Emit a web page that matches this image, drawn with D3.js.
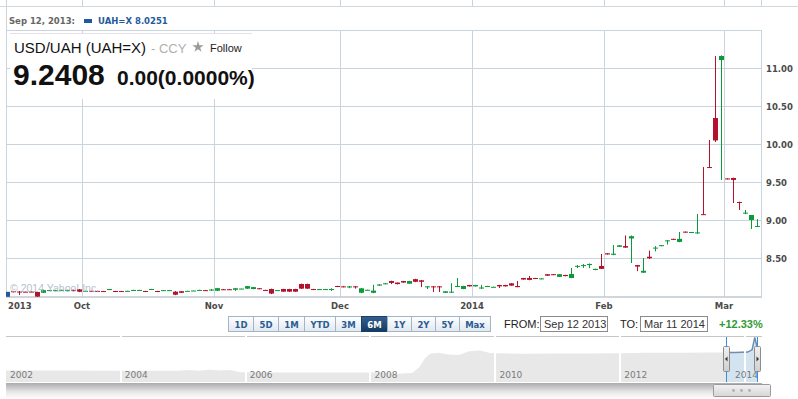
<!DOCTYPE html>
<html>
<head>
<meta charset="utf-8">
<script src="https://cdn.jsdelivr.net/npm/d3@7"></script>
<style>
body { margin: 0; background: #fff; }
svg { display: block; font-family: "Liberation Sans", Arial, sans-serif; }
</style>
</head>
<body>
<div id="chart"></div>
<script>
// trading days on the chart (weekdays, two days without quotes)
let firstDay = new Date(2013, 8, 12), lastDay = new Date(2014, 2, 10);
let missingDays = ["2013-10-14", "2014-01-01"];
let fmtDay = d3.timeFormat("%Y-%m-%d");
let dates = d3.timeDay.range(firstDay, d3.timeDay.offset(lastDay, 1))
    .filter(d => d.getDay() > 0 && d.getDay() < 6 && !missingDays.includes(fmtDay(d)));

// daily candles USD/UAH
let open = [8.030,8.066,8.062,8.060,8.061,8.056,8.045,8.080,8.081,8.078,8.079,8.084,8.091,8.070,8.071,8.070,8.068,8.083,8.069,8.068,
    8.070,8.081,8.080,8.069,8.084,8.069,8.073,8.073,8.060,8.066,8.070,8.074,8.080,8.080,8.085,8.072,8.092,8.092,8.085,8.100,
    8.100,8.095,8.105,8.083,8.095,8.080,8.095,8.095,8.095,8.161,8.161,8.095,8.085,8.085,8.085,8.135,8.130,8.115,8.130,8.046,
    8.080,8.045,8.140,8.160,8.200,8.180,8.200,8.165,8.225,8.210,8.125,8.130,8.130,8.045,8.050,8.130,8.095,8.148,8.130,8.110,
    8.130,8.120,8.148,8.148,8.170,8.135,8.240,8.240,8.240,8.225,8.290,8.290,8.255,8.280,8.240,8.395,8.405,8.410,8.345,8.398,
    8.565,8.545,8.650,8.660,8.760,8.410,8.310,8.520,8.630,8.660,8.730,8.755,8.715,8.850,8.835,8.830,9.080,9.700,10.345,11.108,
    9.550,9.556,9.240,9.090,9.003,8.920];
let high = [8.036,8.070,8.069,8.064,8.064,8.058,8.084,8.083,8.084,8.086,8.085,8.086,8.095,8.072,8.073,8.072,8.070,8.096,8.071,8.070,
    8.072,8.085,8.084,8.071,8.097,8.071,8.082,8.082,8.068,8.069,8.072,8.076,8.085,8.083,8.096,8.110,8.095,8.095,8.110,8.102,
    8.136,8.123,8.108,8.085,8.100,8.082,8.098,8.098,8.098,8.166,8.166,8.097,8.096,8.096,8.105,8.137,8.133,8.135,8.135,8.110,
    8.087,8.150,8.157,8.172,8.205,8.182,8.202,8.202,8.230,8.215,8.135,8.135,8.135,8.067,8.170,8.240,8.137,8.150,8.150,8.150,
    8.137,8.126,8.150,8.150,8.172,8.200,8.242,8.266,8.242,8.237,8.292,8.292,8.292,8.282,8.372,8.410,8.424,8.430,8.362,8.556,
    8.567,8.674,8.672,8.800,8.800,8.412,8.503,8.600,8.660,8.674,8.740,8.757,8.845,8.852,8.847,9.082,9.700,10.056,11.160,11.170,
    9.553,9.560,9.245,9.135,9.069,9.016];
let low = [8.020,8.050,8.016,8.056,8.057,7.990,8.043,8.078,8.079,8.075,8.076,8.076,8.054,8.068,8.069,8.055,8.061,8.081,8.054,8.061,
    8.068,8.079,8.078,8.055,8.082,8.054,8.071,8.071,8.014,8.042,8.068,8.072,8.078,8.070,8.070,8.069,8.083,8.083,8.070,8.098,
    8.095,8.092,8.093,8.078,8.028,8.078,8.058,8.058,8.058,8.095,8.095,8.081,8.083,8.083,8.070,8.120,8.118,8.105,8.100,8.040,
    8.078,8.040,8.138,8.158,8.160,8.155,8.178,8.163,8.185,8.120,8.095,8.056,8.056,8.043,8.043,8.120,8.093,8.128,8.128,8.095,
    8.128,8.118,8.108,8.128,8.138,8.118,8.218,8.210,8.226,8.223,8.268,8.278,8.253,8.263,8.238,8.370,8.372,8.370,8.343,8.358,
    8.548,8.540,8.648,8.635,8.437,8.330,8.305,8.490,8.590,8.658,8.680,8.748,8.710,8.838,8.833,8.820,9.070,9.690,10.030,9.530,
    9.538,9.227,9.135,9.080,8.885,8.911];
let close = [8.025,8.055,8.056,8.059,8.058,7.995,8.080,8.081,8.082,8.084,8.083,8.078,8.058,8.071,8.070,8.058,8.063,8.094,8.056,8.063,
    8.071,8.083,8.083,8.057,8.095,8.056,8.080,8.080,8.020,8.045,8.071,8.075,8.083,8.072,8.088,8.106,8.085,8.085,8.105,8.101,
    8.133,8.120,8.095,8.080,8.035,8.081,8.060,8.060,8.060,8.100,8.100,8.083,8.094,8.094,8.095,8.122,8.120,8.130,8.125,8.104,
    8.085,8.074,8.155,8.170,8.175,8.160,8.180,8.200,8.190,8.190,8.130,8.125,8.125,8.065,8.060,8.135,8.135,8.130,8.148,8.115,
    8.135,8.124,8.130,8.130,8.140,8.120,8.220,8.215,8.228,8.235,8.270,8.280,8.290,8.265,8.293,8.400,8.410,8.425,8.360,8.360,
    8.550,8.560,8.670,8.640,8.790,8.390,8.335,8.500,8.640,8.672,8.735,8.750,8.755,8.840,8.845,8.840,9.075,9.695,10.050,11.161,
    9.540,9.530,9.227,9.100,9.069,8.925];

let yTicks = [8.5, 9, 9.5, 10, 10.5, 11, 11.5];
let rangeButtons = ["1D", "5D", "1M", "YTD", "3M", "6M", "1Y", "2Y", "5Y", "Max"];
let selectedButton = "6M";

// long history shown in the navigator strip
let navDates = ["2002-03-01","2003-01-01","2004-01-01","2004-12-01","2005-02-01","2005-04-01","2005-06-01","2005-08-01",
    "2005-10-01","2005-12-01","2006-06-01","2007-06-01","2008-03-01","2008-06-01","2008-09-01","2008-10-15","2008-11-15",
    "2008-12-15","2009-02-01","2009-04-01","2009-06-01","2009-08-01","2009-10-01","2009-12-01","2010-06-01","2011-01-01",
    "2011-06-01","2012-01-01","2012-06-01","2013-01-01","2013-06-01","2013-11-01","2014-01-15","2014-02-10","2014-02-26",
    "2014-03-11"];
let navValues = [5.33,5.33,5.32,5.31,5.40,5.30,5.45,5.35,5.40,5.06,5.05,5.05,5.05,4.85,4.95,5.90,7.20,7.90,8.05,7.80,7.70,
    8.30,8.40,8.00,7.90,7.95,7.95,7.98,8.05,8.05,8.08,8.08,8.15,8.50,10.40,9.00];
let navYears = [2002, 2004, 2006, 2008, 2010, 2012, 2014];

let upColor = "#0b9a3a", downColor = "#b3122c", gridColor = "#c9d4dc";
let axisFont = "'DejaVu Sans', Verdana, sans-serif";

let svg = d3.select("#chart").append("svg")
    .attr("width", 798)
    .attr("height", 399);

let defs = svg.append("defs");
defs.append("clipPath").attr("id", "plotClip")
    .append("rect").attr("x", 6).attr("y", 0).attr("width", 756).attr("height", 297);
defs.append("clipPath").attr("id", "selClip")
    .append("rect").attr("x", 726).attr("y", 330).attr("width", 31).attr("height", 60);

function vGrad(id, stops) {
    let g = defs.append("linearGradient").attr("id", id)
        .attr("x1", 0).attr("y1", 0).attr("x2", 0).attr("y2", 1);
    stops.forEach(s => g.append("stop").attr("offset", s[0]).attr("stop-color", s[1]));
}
vGrad("btnGrad", [[0, "#ffffff"], [1, "#e1e8ef"]]);
vGrad("btnSel", [[0, "#34618f"], [1, "#153a60"]]);
vGrad("scrollGrad", [[0, "#ababab"], [0.55, "#e6e6e6"], [1, "#ffffff"]]);
vGrad("thumbGrad", [[0, "#f2f2f2"], [1, "#d6d6d6"]]);
vGrad("handleGrad", [[0, "#f0f0f0"], [1, "#cfcfcf"]]);

// scales
let x = d3.scaleBand().domain(dates).range([4.5, 759.5]).padding(0);
let y = d3.scaleLinear().domain([7.99, 11.49]).range([297, 31]);
let cx = d => Math.round(x(d) + x.bandwidth() / 2);

let monthStarts = dates.filter((d, i) => i > 0 && d.getMonth() !== dates[i - 1].getMonth());

// grid
svg.append("g").selectAll("line.hgrid")
    .data(yTicks).join("line")
    .attr("x1", 6).attr("x2", 762)
    .attr("y1", d => Math.round(y(d)) + 0.5)
    .attr("y2", d => Math.round(y(d)) + 0.5)
    .attr("stroke", gridColor);

svg.append("g").selectAll("line.vgrid")
    .data(monthStarts).join("line")
    .attr("x1", d => Math.round(x(d)) + 0.5)
    .attr("x2", d => Math.round(x(d)) + 0.5)
    .attr("y1", 0).attr("y2", 297)
    .attr("stroke", gridColor);

// frame
svg.append("line").attr("x1", 6.5).attr("x2", 6.5).attr("y1", 0).attr("y2", 297).attr("stroke", gridColor);
svg.append("line").attr("x1", 761.5).attr("x2", 761.5).attr("y1", 0).attr("y2", 297).attr("stroke", gridColor);
svg.append("line").attr("x1", 6).attr("x2", 762).attr("y1", 297).attr("y2", 297)
    .attr("stroke", "#bfcad2").attr("stroke-width", 1.5);

// candles
let candles = dates.map((d, i) => ({date: d, o: open[i], h: high[i], l: low[i], c: close[i]}));
let cg = svg.append("g").attr("clip-path", "url(#plotClip)")
    .selectAll("g").data(candles).join("g")
    .attr("fill", d => d.c >= d.o ? upColor : downColor)
    .attr("stroke", d => d.c >= d.o ? upColor : downColor);

cg.append("line")
    .attr("x1", d => cx(d.date) + 0.5)
    .attr("x2", d => cx(d.date) + 0.5)
    .attr("y1", d => y(d.h))
    .attr("y2", d => y(d.l))
    .attr("stroke-width", 1);

cg.append("rect")
    .attr("stroke", "none")
    .attr("x", d => cx(d.date) - 2)
    .attr("width", 5)
    .attr("y", d => y(Math.max(d.o, d.c)))
    .attr("height", d => Math.max(1, Math.abs(y(d.o) - y(d.c))));

// watermark
svg.append("text")
    .attr("x", 10).attr("y", 292)
    .attr("font-size", 10.5)
    .attr("fill", "#a9b5c5")
    .attr("opacity", 0.85)
    .text("\u00a9 2014 Yahoo! Inc.");

// hover marker on the first day
svg.append("rect")
    .attr("x", 6).attr("y", y(8.0251) - 2.5)
    .attr("width", 4).attr("height", 5)
    .attr("fill", "#1f5b9a");

// y labels
svg.append("g").selectAll("text")
    .data(yTicks.filter(v => v < 11.5)).join("text")
    .attr("x", 766)
    .attr("y", d => Math.round(y(d)) + 3.5)
    .attr("font-family", axisFont)
    .attr("font-weight", "bold")
    .attr("font-size", 8.5)
    .attr("fill", "#4a4a4a")
    .text(d => d.toFixed(2));

// x labels
let fmtMonth = d3.timeFormat("%b");
let xLabels = [dates[0]].concat(monthStarts);
svg.append("g").selectAll("text")
    .data(xLabels).join("text")
    .attr("x", (d, i) => i === 0 ? 8 : Math.round(x(d)))
    .attr("y", 308.5)
    .attr("text-anchor", (d, i) => i === 0 ? "start" : "middle")
    .attr("font-family", axisFont)
    .attr("font-weight", "bold")
    .attr("font-size", 8.5)
    .attr("fill", "#4a4a4a")
    .text((d, i) => (i === 0 || d.getMonth() === 0) ? d.getFullYear() : fmtMonth(d));

// hover row at the top
svg.append("rect").attr("x", 7).attr("y", 7).attr("width", 791).attr("height", 23).attr("fill", "#fff");
svg.append("line").attr("x1", 0).attr("x2", 798).attr("y1", 6.5).attr("y2", 6.5).attr("stroke", "#d0d8dd");
svg.append("text")
    .attr("x", 9).attr("y", 24)
    .attr("font-family", axisFont).attr("font-weight", "bold").attr("font-size", 8.5)
    .attr("fill", "#666")
    .text("Sep 12, 2013:");
svg.append("rect").attr("x", 84).attr("y", 19).attr("width", 8).attr("height", 4).attr("fill", "#1f5b9a");
svg.append("text")
    .attr("x", 98).attr("y", 24)
    .attr("font-family", axisFont).attr("font-weight", "bold").attr("font-size", 8.5)
    .attr("fill", "#1f5b9a")
    .text("UAH=X 8.0251");

// quote box
svg.append("rect").attr("x", 10).attr("y", 33).attr("width", 242).attr("height", 66).attr("fill", "#fff");
svg.append("line").attr("x1", 10).attr("x2", 252).attr("y1", 33.5).attr("y2", 33.5).attr("stroke", "#e6dfec");
svg.append("text").attr("x", 14).attr("y", 53).attr("font-size", 15).attr("fill", "#111")
    .text("USD/UAH (UAH=X)");
svg.append("text").attr("x", 151).attr("y", 53).attr("font-size", 13).attr("fill", "#b0b0b0")
    .text("- CCY");
svg.append("path")
    .attr("d", d3.symbol(d3.symbolStar, 40)())
    .attr("transform", "translate(198,47)")
    .attr("fill", "#9a9a9a");
svg.append("text").attr("x", 210).attr("y", 52).attr("font-size", 11).attr("fill", "#222")
    .text("Follow");
svg.append("text").attr("x", 13).attr("y", 85).attr("font-size", 30).attr("font-weight", "bold").attr("fill", "#111")
    .text("9.2408");
svg.append("text").attr("x", 117).attr("y", 85).attr("font-size", 21).attr("font-weight", "bold").attr("fill", "#111")
    .text("0.00(0.0000%)");

// range buttons
let bx = 228;
rangeButtons.forEach(label => {
    let sel = label === selectedButton;
    let bg = svg.append("g");
    let r = bg.append("rect").attr("y", 316.5).attr("height", 15)
        .attr("fill", sel ? "url(#btnSel)" : "url(#btnGrad)")
        .attr("stroke", sel ? "#1b3f66" : "#a3b4c6");
    let t = bg.append("text")
        .attr("y", 327.5)
        .attr("text-anchor", "middle")
        .attr("font-family", axisFont).attr("font-weight", "bold").attr("font-size", 8.5)
        .attr("fill", sel ? "#fff" : "#2a5c94")
        .text(label);
    let w = Math.round(t.node().getComputedTextLength() + 11.7);
    r.attr("x", bx + 0.5).attr("width", w);
    t.attr("x", bx + w / 2 + 0.5);
    bx += w;
});

svg.append("text").attr("x", 504).attr("y", 328).attr("font-size", 11).attr("fill", "#222").text("FROM:");
svg.append("rect").attr("x", 540.5).attr("y", 316.5).attr("width", 67).attr("height", 15)
    .attr("fill", "#fff").attr("stroke", "#8a8a8a");
svg.append("text").attr("x", 544).attr("y", 328).attr("font-size", 11).attr("fill", "#333").text("Sep 12 2013");
svg.append("text").attr("x", 620).attr("y", 328).attr("font-size", 11).attr("fill", "#222").text("TO:");
svg.append("rect").attr("x", 640.5).attr("y", 316.5).attr("width", 67).attr("height", 15)
    .attr("fill", "#fff").attr("stroke", "#8a8a8a");
svg.append("text").attr("x", 644).attr("y", 328).attr("font-size", 11).attr("fill", "#333").text("Mar 11 2014");
svg.append("text").attr("x", 719).attr("y", 328).attr("font-size", 11).attr("font-weight", "bold")
    .attr("fill", "#2f9a33").text("+12.33%");

svg.append("line").attr("x1", 6).attr("x2", 762).attr("y1", 336.5).attr("y2", 336.5).attr("stroke", "#c6c6c6");

// navigator
let parseDay = d3.timeParse("%Y-%m-%d");
let nav = navDates.map((d, i) => ({date: parseDay(d), v: navValues[i]}));
let nx = d3.scaleTime().domain([parseDay("2002-03-01"), parseDay("2014-03-11")]).range([6, 757]);
let ny = d3.scaleLinear().domain([4.5, 10]).range([376, 340]);
let navArea = d3.area().x(d => nx(d.date)).y0(382).y1(d => ny(d.v));
let navLine = d3.line().x(d => nx(d.date)).y(d => ny(d.v));

svg.append("path").datum(nav).attr("d", navArea).attr("fill", "#e8e8e8");
svg.append("path").datum(nav).attr("d", navArea).attr("fill", "#d3e3f0").attr("clip-path", "url(#selClip)");
svg.append("path").datum(nav).attr("d", navLine).attr("fill", "none")
    .attr("stroke", "#6e8dad").attr("stroke-width", 1.5).attr("clip-path", "url(#selClip)");

let yearStarts = navYears.map(yr => new Date(yr, 0, 1));
svg.append("g").selectAll("line")
    .data(yearStarts.filter(d => nx(d) > 6)).join("line")
    .attr("x1", d => Math.round(nx(d)))
    .attr("x2", d => Math.round(nx(d)))
    .attr("y1", 336).attr("y2", 382)
    .attr("stroke", "#fff").attr("stroke-width", 2);

svg.append("g").selectAll("text")
    .data(yearStarts).join("text")
    .attr("x", d => Math.min(Math.max(nx(d) + 4, 10), 735))
    .attr("y", 377.5)
    .attr("font-family", axisFont).attr("font-size", 9)
    .attr("fill", "#7a7a7a")
    .text(d => d.getFullYear());

// selection edges and handles
[726.5, 757.5].forEach(px => {
    svg.append("line").attr("x1", px).attr("x2", px).attr("y1", 337).attr("y2", 382)
        .attr("stroke", "#2e8fe0");
});
[[723.5, -1], [754.5, 1]].forEach(h => {
    svg.append("rect").attr("x", h[0]).attr("y", 346.5).attr("width", 6).attr("height", 25).attr("rx", 1)
        .attr("fill", "url(#handleGrad)").attr("stroke", "#8c8c8c");
    let mx = h[0] + 3, my = 359;
    svg.append("path")
        .attr("d", h[1] < 0
            ? `M${mx - 1.5},${my} L${mx + 1},${my - 2.5} L${mx + 1},${my + 2.5} Z`
            : `M${mx + 1.5},${my} L${mx - 1},${my - 2.5} L${mx - 1},${my + 2.5} Z`)
        .attr("fill", "#333");
});

// scrollbar
svg.append("rect").attr("x", 6).attr("y", 383).attr("width", 756).attr("height", 16).attr("fill", "url(#scrollGrad)");
svg.append("rect").attr("x", 713.5).attr("y", 384.5).attr("width", 57).attr("height", 12).attr("rx", 1)
    .attr("fill", "url(#thumbGrad)").attr("stroke", "#9a9a9a");
[733.5, 741.5, 749.5].forEach(px => {
    svg.append("circle").attr("cx", px).attr("cy", 390.5).attr("r", 1.4).attr("fill", "#b0b0b0");
});
</script>
</body>
</html>
